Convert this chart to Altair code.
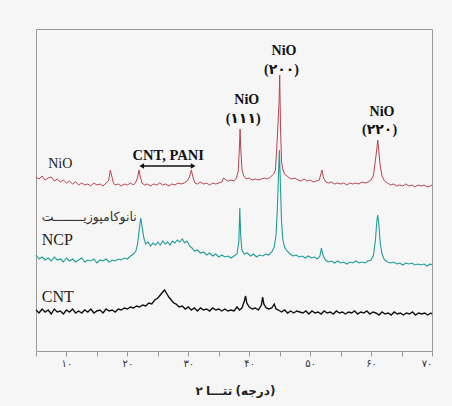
import altair as alt
import pandas as pd

# --- XRD patterns (2-theta in degrees, intensity in a.u. with vertical offsets) ---
nio_angle = [5.0, 5.5, 6.0, 6.5, 7.0, 7.5, 8.0, 8.5, 9.0, 9.5, 10.0, 10.5, 11.0, 11.5, 12.0, 12.5,
             13.0, 13.5, 14.0, 14.5, 15.0, 15.5, 16.0, 16.5, 16.9, 17.2, 17.4, 17.7, 18.0, 18.5, 19.0,
             19.5, 20.0, 20.5, 21.0, 21.4, 21.7, 21.9, 22.1, 22.4, 22.8, 23.3, 23.8, 24.3, 24.8, 25.3,
             25.8, 26.3, 26.8, 27.3, 27.8, 28.3, 28.8, 29.3, 29.8, 30.2, 30.5, 30.8, 31.1, 31.5, 32.0,
             32.5, 33.0, 33.5, 34.0, 34.5, 35.0, 35.5, 35.8, 36.2, 36.6, 37.0, 37.5, 37.9, 38.2, 38.4,
             38.5, 38.6, 38.8, 39.1, 39.5, 40.0, 40.5, 41.0, 41.5, 42.0, 42.5, 43.0, 43.5, 44.0, 44.3,
             44.5, 44.7, 44.9, 45.0, 45.15, 45.3, 45.5, 45.8, 46.2, 46.6, 47.0, 47.5, 48.0, 48.5, 49.0,
             49.5, 50.0, 50.5, 51.0, 51.5, 51.8, 51.95, 52.2, 52.6, 53.0, 53.5, 54.0, 54.5, 55.0, 55.5,
             56.0, 56.5, 57.0, 57.5, 58.0, 58.5, 59.0, 59.5, 60.0, 60.4, 60.7, 60.9, 61.1, 61.3, 61.5,
             61.8, 62.2, 62.7, 63.2, 63.7, 64.2, 64.7, 65.2, 65.7, 66.2, 66.7, 67.2, 67.7, 68.2, 68.7,
             69.2, 69.7, 70.0]
nio_counts = [174, 172, 175, 171, 173, 174, 170, 172, 169, 171, 168, 170, 167, 169, 166, 168,
              166, 167, 165, 168, 166, 167, 165, 168, 170, 181, 176, 168, 166, 167, 165,
              167, 166, 168, 166, 169, 174, 181, 175, 168, 166, 167, 165, 167, 166, 168,
              166, 167, 165, 167, 166, 168, 167, 168, 170, 174, 181, 173, 168, 167, 169,
              167, 168, 166, 168, 167, 168, 169, 173, 171, 170, 171, 170, 173, 180, 205,
              222, 204, 182, 175, 172, 173, 171, 172, 171, 172, 173, 172, 174, 177, 181,
              201, 224, 250, 276, 220, 190, 182, 177, 175, 173, 172, 173, 171, 170, 172,
              170, 171, 169, 170, 171, 178, 181, 173, 169, 168, 169, 167, 168, 167, 168,
              166, 168, 167, 168, 167, 169, 168, 169, 171, 176, 190, 200, 211, 198, 185,
              175, 170, 168, 166, 167, 165, 166, 165, 167, 165, 166, 164, 166, 165, 166,
              164, 165, 166]

ncp_angle = [5.0, 5.5, 6.0, 6.5, 7.0, 7.5, 8.0, 8.5, 9.0, 9.5, 10.0, 10.5, 11.0, 11.5, 12.0, 12.5,
             13.0, 13.5, 14.0, 14.5, 15.0, 15.5, 16.0, 16.5, 17.0, 17.5, 18.0, 18.5, 19.0, 19.5, 20.0,
             20.5, 21.0, 21.4, 21.7, 22.0, 22.2, 22.4, 22.7, 23.0, 23.4, 23.8, 24.2, 24.6, 25.0, 25.4,
             25.8, 26.2, 26.6, 27.0, 27.4, 27.8, 28.2, 28.6, 29.0, 29.4, 29.8, 30.2, 30.6, 31.0, 31.5,
             32.0, 32.5, 33.0, 33.5, 34.0, 34.5, 35.0, 35.5, 36.0, 36.5, 37.0, 37.5, 38.0, 38.3, 38.45,
             38.6, 38.8, 39.2, 39.7, 40.2, 40.7, 41.2, 41.7, 42.2, 42.7, 43.2, 43.7, 44.1, 44.4, 44.6,
             44.8, 44.95, 45.1, 45.3, 45.5, 45.8, 46.2, 46.7, 47.2, 47.7, 48.2, 48.7, 49.2, 49.7, 50.2,
             50.7, 51.2, 51.6, 51.85, 52.1, 52.5, 53.0, 53.5, 54.0, 54.5, 55.0, 55.5, 56.0, 56.5, 57.0,
             57.5, 58.0, 58.5, 59.0, 59.5, 60.0, 60.4, 60.7, 60.95, 61.1, 61.3, 61.5, 61.8, 62.2, 62.7,
             63.2, 63.7, 64.2, 64.7, 65.2, 65.7, 66.2, 66.7, 67.2, 67.7, 68.2, 68.7, 69.2, 69.7, 70.0]
ncp_counts = [96, 92, 94, 91, 93, 90, 94, 91, 92, 89, 93, 90, 92, 89, 91, 93,
              89, 91, 90, 92, 88, 91, 90, 92, 89, 91, 90, 92, 91, 93, 92,
              95, 97, 100, 108, 124, 133, 125, 113, 107, 109, 105, 108, 106, 109, 106,
              110, 107, 109, 106, 110, 108, 111, 109, 112, 108, 110, 105, 103, 100, 101,
              98, 99, 96, 98, 95, 97, 94, 96, 94, 95, 93, 95, 97, 110, 143,
              115, 101, 97, 98, 95, 97, 94, 96, 95, 97, 96, 99, 104, 116, 140,
              175, 201, 170, 130, 112, 104, 100, 97, 95, 96, 94, 95, 93, 95, 93,
              94, 92, 95, 103, 96, 91, 89, 90, 88, 90, 88, 89, 87, 89, 88,
              90, 88, 89, 88, 90, 91, 96, 110, 130, 136, 125, 108, 97, 91, 89,
              88, 89, 87, 88, 86, 88, 87, 88, 86, 87, 86, 87, 85, 87, 86]

cnt_angle = [5.0, 5.5, 6.0, 6.5, 7.0, 7.5, 8.0, 8.5, 9.0, 9.5, 10.0, 10.5, 11.0, 11.5, 12.0, 12.5,
             13.0, 13.5, 14.0, 14.5, 15.0, 15.5, 16.0, 16.5, 17.0, 17.5, 18.0, 18.5, 19.0, 19.5, 20.0,
             20.5, 21.0, 21.5, 22.0, 22.5, 23.0, 23.5, 24.0, 24.5, 25.0, 25.4, 25.8, 26.1, 26.4, 26.8,
             27.2, 27.6, 28.0, 28.5, 29.0, 29.5, 30.0, 30.5, 31.0, 31.5, 32.0, 32.5, 33.0, 33.5, 34.0,
             34.5, 35.0, 35.5, 36.0, 36.5, 37.0, 37.5, 38.0, 38.4, 38.8, 39.2, 39.4, 39.6, 40.0, 40.5,
             41.0, 41.5, 42.0, 42.2, 42.4, 42.8, 43.2, 43.7, 44.1, 44.4, 44.8, 45.3, 45.8, 46.3, 46.8,
             47.3, 47.8, 48.3, 48.8, 49.3, 49.8, 50.3, 50.8, 51.3, 51.8, 52.3, 52.8, 53.3, 53.8, 54.3,
             54.8, 55.3, 55.8, 56.3, 56.8, 57.3, 57.8, 58.3, 58.8, 59.3, 59.8, 60.3, 60.8, 61.3, 61.8,
             62.3, 62.8, 63.3, 63.8, 64.3, 64.8, 65.3, 65.8, 66.3, 66.8, 67.3, 67.8, 68.3, 68.8, 69.3,
             69.8, 70.0]
cnt_counts = [41, 38, 42, 39, 41, 37, 42, 39, 40, 37, 41, 39, 42, 38, 40, 38,
              41, 39, 42, 38, 40, 41, 38, 42, 40, 41, 39, 42, 41, 43, 42,
              44, 43, 45, 44, 46, 45, 48, 47, 51, 53, 56, 59, 61, 58, 54,
              51, 48, 47, 44, 45, 42, 44, 41, 43, 40, 43, 41, 42, 40, 43,
              41, 42, 40, 42, 40, 41, 40, 44, 41, 43, 50, 55, 48, 44, 42,
              43, 41, 46, 54, 47, 43, 42, 43, 47, 42, 41, 39, 41, 38, 40,
              38, 40, 39, 38, 40, 37, 40, 38, 39, 37, 40, 38, 39, 37, 40,
              38, 39, 37, 39, 38, 40, 37, 39, 38, 40, 37, 39, 38, 36, 39,
              37, 38, 36, 39, 37, 38, 36, 38, 37, 39, 36, 38, 37, 38, 36,
              38, 37]

series_names = ["NiO", "NCP", "CNT"]
series_colors = ["#b8444e", "#1f9d98", "#111111"]

# x axis: ticks every 5 degrees, Persian numerals on multiples of 10
tick_values = [5, 10, 15, 20, 25, 30, 35, 40, 45, 50, 55, 60, 65, 70]
tick_labels = {10: "۱۰", 20: "۲۰", 30: "۳۰", 40: "۴۰", 50: "۵۰", 60: "۶۰", 70: "۷۰"}
# axis title "2 theta (degree)", set word by word so the word order stays fixed
title_words = ["۲", "تتـــا", "(درجه)"]

label_expr = "''"
for v, t in sorted(tick_labels.items(), reverse=True):
    label_expr = f"datum.value == {v} ? '{t}' : ({label_expr})"

x_scale = alt.Scale(domain=[5, 70], nice=False, zero=False)
y_scale = alt.Scale(domain=[0, 322], nice=False, zero=False)
x_axis = alt.Axis(values=tick_values, labelExpr=label_expr, title="", grid=False,
                  domain=True, domainColor="#9a9a9a", tickColor="#9a9a9a", tickSize=5,
                  labelFont="DejaVu Sans", labelFontSize=10, labelColor="#333333",
                  labelPadding=2, labelAngle=0)


def xy(xfield, yfield):
    return dict(x=alt.X(f"{xfield}:Q", scale=x_scale, axis=x_axis),
                y=alt.Y(f"{yfield}:Q", scale=y_scale, axis=None))


pattern_layers = []
for name, color, ang, cnt, sw in zip(series_names, series_colors,
                                      [nio_angle, ncp_angle, cnt_angle],
                                      [nio_counts, ncp_counts, cnt_counts],
                                      [1.0, 1.1, 1.4]):
    df = pd.DataFrame({"angle": ang, "counts": cnt, "sample": name})
    pattern_layers.append(
        alt.Chart(df).mark_line(color=color, strokeWidth=sw, interpolate="linear")
        .encode(**xy("angle", "counts"))
    )

# --- annotations ---
serif = "Liberation Serif, DejaVu Sans"


def labels(rows, **style):
    df = pd.DataFrame(rows, columns=["text", "angle", "counts"])
    return alt.Chart(df).mark_text(**style).encode(text="text:N", **xy("angle", "counts"))


peak_labels = labels(
    [["NiO", 39.6, 247.5], ["(۱۱۱)", 39.0, 228.5],
     ["NiO", 45.7, 296], ["(۲۰۰)", 45.3, 277],
     ["NiO", 61.8, 235], ["(۲۲۰)", 61.4, 217.5]],
    font=serif, fontSize=14, fontWeight="bold", color="#111111", align="center",
    baseline="alphabetic")

band_label = labels([["CNT, PANI", 26.7, 191]],
                    font=serif, fontSize=14.5, fontWeight="bold", color="#111111",
                    align="center", baseline="alphabetic")

nio_name = labels([["NiO", 7.0, 183.5]], font=serif, fontSize=14, color="#222222",
                  align="left", baseline="alphabetic")
sample_names = labels([["NCP", 5.95, 106], ["CNT", 5.95, 49.5]],
                      font=serif, fontSize=16, color="#222222", align="left",
                      baseline="alphabetic")
fa_name = labels([["نانوکامپوزیــــــــت", 5.95, 130.5]], font="DejaVu Sans", fontSize=12.5,
                 color="#333333", align="left", baseline="alphabetic")

# x-axis title below the tick labels
title_style = dict(font="DejaVu Sans", fontSize=12, fontWeight="bold", color="#222222",
                   baseline="alphabetic")
title_num = labels([[title_words[0], 32.4, -44]], align="right", **title_style)
title_word = labels([[title_words[1], 32.9, -44]], align="left", **title_style)
title_unit = labels([[title_words[2], 44.3, -44]], align="right", **title_style)

# double-headed arrow spanning the CNT / PANI region
arrow_df = pd.DataFrame({"start": [22.6], "end": [30.55], "counts": [185]})
arrow_line = alt.Chart(arrow_df).mark_rule(color="#111111", strokeWidth=1.3).encode(
    x=alt.X("start:Q", scale=x_scale, axis=x_axis), x2="end:Q",
    y=alt.Y("counts:Q", scale=y_scale, axis=None))
heads_df = pd.DataFrame({"angle": [22.35, 30.8], "counts": [185, 185],
                         "shape": ["triangle-left", "triangle-right"]})
arrow_heads = alt.Chart(heads_df).mark_point(filled=True, color="#111111", size=30,
                                             opacity=1).encode(
    shape=alt.Shape("shape:N", scale=None), **xy("angle", "counts"))

chart = alt.layer(
    *pattern_layers, peak_labels, band_label, nio_name, sample_names, fa_name,
    title_num, title_word, title_unit, arrow_line, arrow_heads
).properties(
    width=396, height=322,
    padding={"left": 36, "top": 29, "right": 20, "bottom": 55},
    autosize=alt.AutoSizeParams(type="none"),
    background="#f6f6f6",
).configure_view(
    stroke="#9a9a9a", strokeWidth=1, fill="#f6f6f6"
)

chart.save("out.html", embed_options={"renderer": "svg", "actions": False})
